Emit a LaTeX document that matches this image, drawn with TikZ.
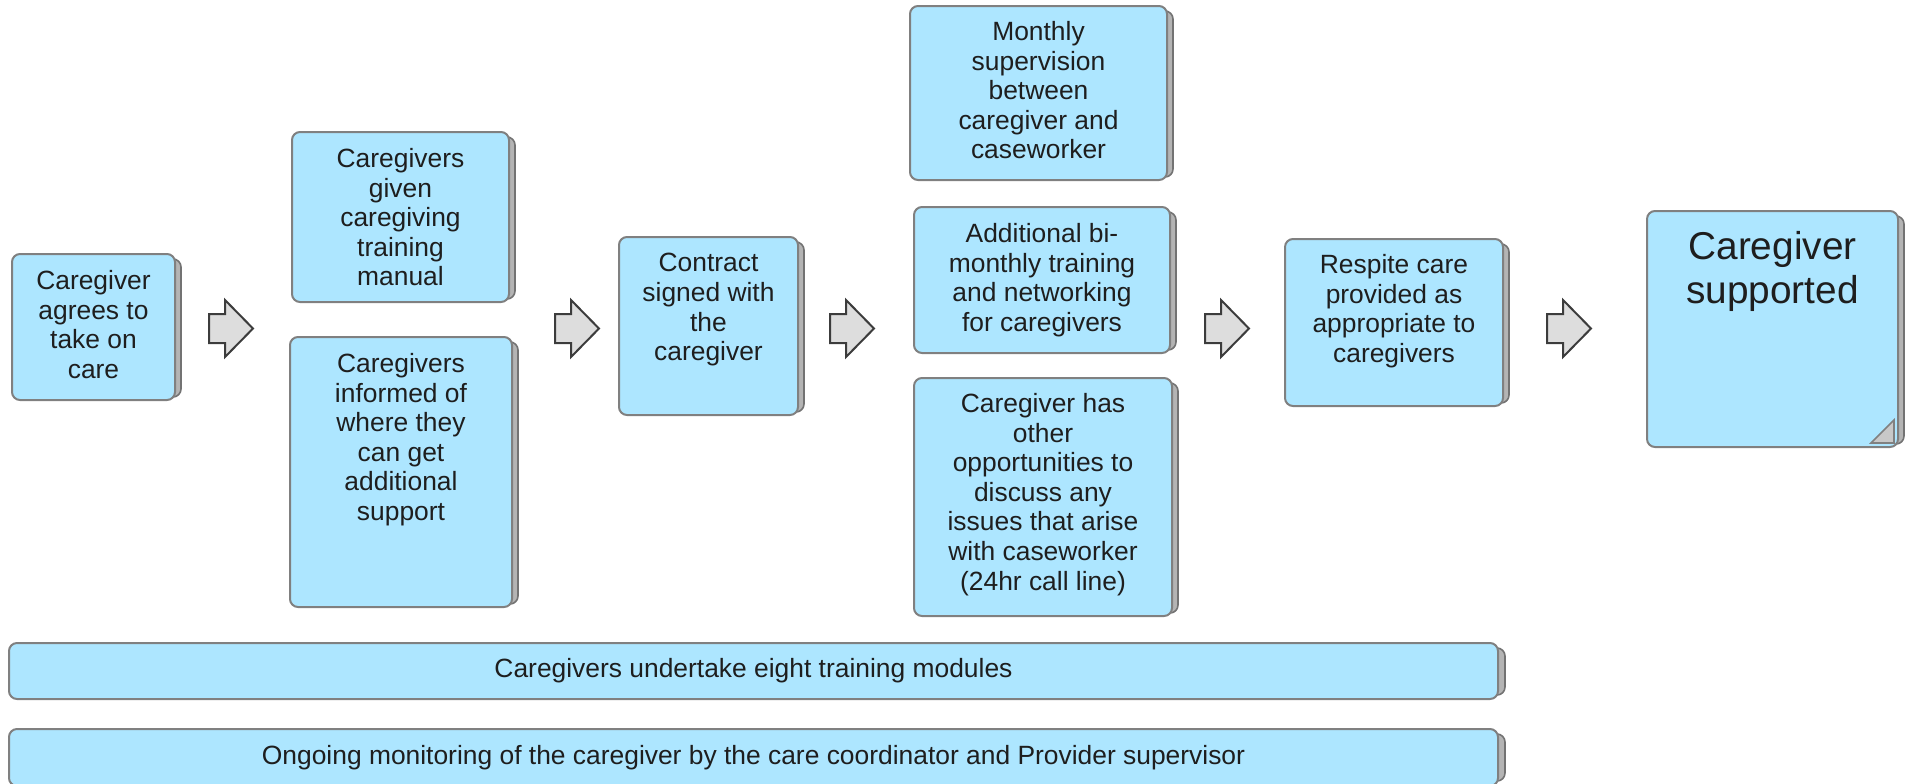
\documentclass[tikz,border=0pt]{standalone}
\usepackage{fontspec}
\setmainfont{Liberation Sans}
\usetikzlibrary{fit}
\definecolor{boxfill}{RGB}{173,230,255}
\definecolor{boxline}{RGB}{128,128,128}
\definecolor{shadefill}{RGB}{180,180,180}
\definecolor{shadeline}{RGB}{115,115,115}
\definecolor{txtc}{RGB}{30,30,30}
\definecolor{arrfill}{RGB}{221,221,221}
\definecolor{arrline}{RGB}{60,60,60}
\definecolor{foldfill}{RGB}{200,200,200}
\newcommand\cbox[7]{% name x1 y1 x2 y2 textoffset(px) text
  \draw[shade] (#2+8,#3+5) rectangle (#4+6,#5-3);
  \node[box, fit={(#2,#3) (#4,#5)}] (#1) {};
  \node[txt, anchor=north] (#1-t) at ([yshift=-#6*0.5pt]#1.north) {#7};
}
\newcommand\barrow[2]{% name x
  \coordinate (#1) at (#2,328.5);
  \draw[blockarrow] (#1) ++(0,-14.5) -- ++(16,0) -- ++(0,-14) -- ++(28,28.5) -- ++(-28,28.5) -- ++(0,-14) -- ++(-16,0) -- cycle;
}
\begin{document}
\begin{tikzpicture}[x=0.5pt,y=-0.5pt,
  box/.style={draw=boxline, fill=boxfill, line width=1pt, rounded corners=4pt, inner sep=0pt},
  shade/.style={draw=shadeline, fill=shadefill, line width=0.8pt, rounded corners=4pt},
  txt/.style={align=center, text=txtc, font=\fontsize{13.2}{14.8}\selectfont, inner sep=0pt},
  bigtxt/.style={align=center, text=txtc, font=\fontsize{19.4}{22}\selectfont, inner sep=0pt},
  blockarrow/.style={draw=arrline, fill=arrfill, line width=1pt, line join=miter},
  fold/.style={draw=boxline, fill=foldfill, line width=0.8pt}]
\useasboundingbox (0,0) rectangle (1910,783);

\cbox{b1}{12}{254}{175}{400}{17}{Caregiver\\agrees to\\take on\\care}
\cbox{b2a}{292}{132}{509}{302}{17}{Caregivers\\given\\caregiving\\training\\manual}
\cbox{b2b}{290}{337}{512}{607}{17}{Caregivers\\informed of\\where they\\can get\\additional\\support}
\cbox{b3}{619}{237}{798}{415}{17}{Contract\\signed with\\the\\caregiver}
\cbox{b4a}{910}{6}{1167}{180}{16}{Monthly\\supervision\\between\\caregiver and\\caseworker}
\cbox{b4b}{914}{207}{1170}{353}{17}{Additional bi-\\monthly training\\and networking\\for caregivers}
\cbox{b4c}{914}{378}{1172}{616}{16}{Caregiver has\\other\\opportunities to\\discuss any\\issues that arise\\with caseworker\\(24hr call line)}
\cbox{b5}{1285}{239}{1503}{406}{16}{Respite care\\provided as\\appropriate to\\caregivers}

\draw[shade] (1655,216) rectangle (1904,444);
\node[box, fit={(1647,211) (1898,447)}] (b6) {};
\node[bigtxt, anchor=north] (b6-t) at ([yshift=-10.3pt]b6.north) {Caregiver\\supported};
\draw[fold] (1871,443) -- (1894,420) -- (1894,443) -- cycle;

\draw[shade] (20,648) rectangle (1505,695);
\node[box, fit={(9,643) (1498,699)}] (bar1) {};
\node[txt] (bar1-t) at (bar1.center) {Caregivers undertake eight training modules};

\draw[shade] (20,734) rectangle (1505,781);
\node[box, fit={(9,729) (1498,786)}] (bar2) {};
\node[txt] (bar2-t) at (bar2.center) {Ongoing monitoring of the caregiver by the care coordinator and Provider supervisor};

\barrow{a1}{209}
\barrow{a2}{555}
\barrow{a3}{830}
\barrow{a4}{1205}
\barrow{a5}{1547}
\end{tikzpicture}
\end{document}
